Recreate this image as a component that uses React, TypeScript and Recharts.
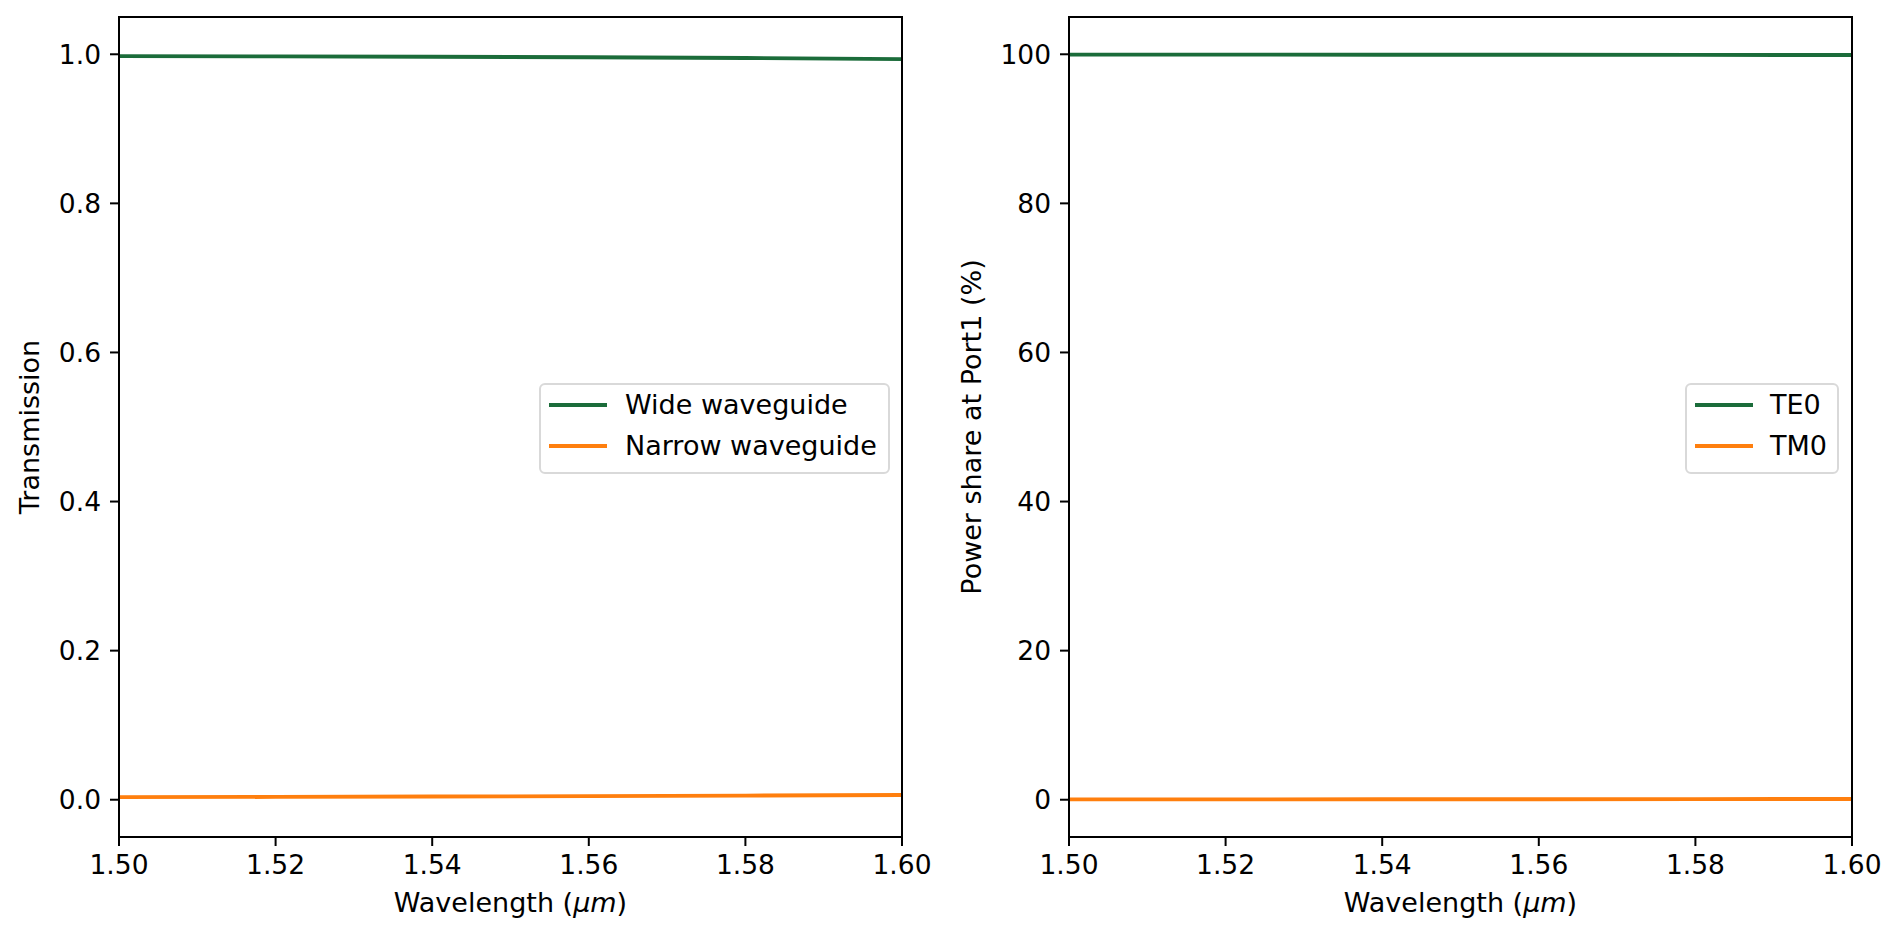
import React from 'react'
import { LineChart, Line, XAxis, YAxis } from 'recharts'

// ─── Data ─────────────────────────────────────────────────────────────────────

const WAVELENGTHS = [1.5, 1.52, 1.54, 1.56, 1.58, 1.6]
const WIDE_T      = [0.9975, 0.9972, 0.9967, 0.996, 0.995, 0.9935]
const NARROW_T    = [0.0035, 0.0038, 0.0043, 0.0048, 0.0055, 0.0063]
const TE0_SHARE   = [99.95, 99.95, 99.94, 99.93, 99.92, 99.9]
const TM0_SHARE   = [0.05, 0.05, 0.06, 0.07, 0.08, 0.1]

const X_TICKS       = [1.5, 1.52, 1.54, 1.56, 1.58, 1.6]
const Y_TICKS_LEFT  = [0, 0.2, 0.4, 0.6, 0.8, 1.0]
const Y_TICKS_RIGHT = [0, 20, 40, 60, 80, 100]

const LEFT_NAMES  = ['Wide waveguide', 'Narrow waveguide']
const RIGHT_NAMES = ['TE0', 'TM0']

// ─── Style ────────────────────────────────────────────────────────────────────

const GREEN  = '#1b6c3a'
const ORANGE = '#ff7f0e'
const FONT   = '"DejaVu Sans", Verdana, sans-serif'
const FS     = 27
const TICK   = { fill: '#000', fontSize: 26.5, fontFamily: FONT }
const AXIS   = { stroke: '#000', strokeWidth: 2 }

const leftData  = WAVELENGTHS.map((wl, i) => ({ wl, a: WIDE_T[i], b: NARROW_T[i] }))
const rightData = WAVELENGTHS.map((wl, i) => ({ wl, a: TE0_SHARE[i], b: TM0_SHARE[i] }))

function Panel({
  data,
  domain,
  ticks,
  fmt,
}: {
  data: { wl: number; a: number; b: number }[]
  domain: [number, number]
  ticks: number[]
  fmt: (v: number) => string
}) {
  return (
    <LineChart width={950} height={940} data={data} margin={{ top: 17, right: 48, bottom: 0, left: 0 }}>
      <XAxis
        dataKey="wl"
        type="number"
        domain={[1.5, 1.6]}
        ticks={X_TICKS}
        tickFormatter={(v: number) => v.toFixed(2)}
        tick={TICK}
        tickSize={9}
        tickMargin={9}
        tickLine={AXIS}
        axisLine={AXIS}
        height={103}
        allowDataOverflow
      />
      <YAxis
        type="number"
        domain={domain}
        ticks={ticks}
        tickFormatter={fmt}
        tick={TICK}
        tickSize={9}
        tickMargin={9}
        tickLine={AXIS}
        axisLine={AXIS}
        width={119}
        allowDataOverflow
      />
      <Line type="linear" dataKey="a" stroke={GREEN} strokeWidth={3.9} dot={false} activeDot={false} isAnimationActive={false} />
      <Line type="linear" dataKey="b" stroke={ORANGE} strokeWidth={3.9} dot={false} activeDot={false} isAnimationActive={false} />
    </LineChart>
  )
}

// full box around the plot area (matplotlib spines)
function Frame({ left }: { left: number }) {
  return (
    <div
      style={{
        position: 'absolute', left, top: 16, width: 785, height: 822,
        boxSizing: 'border-box', border: '2px solid #000', pointerEvents: 'none',
      }}
    />
  )
}

function LegendBox({ names, left, width, textLeft }: { names: string[]; left: number; width: number; textLeft: number }) {
  const colors = [GREEN, ORANGE]
  return (
    <div
      style={{
        position: 'absolute', left, top: 383, width, height: 91, boxSizing: 'border-box',
        border: '2px solid #d9d9d9', borderRadius: 6, background: 'rgba(255,255,255,0.8)',
      }}
    >
      {names.map((n, i) => (
        <div key={n} style={{ position: 'absolute', left: 0, top: 22 - 2 - 13 + i * 41, height: 26, width: '100%' }}>
          <svg width={60} height={26} style={{ position: 'absolute', left: 6, top: 0 }}>
            <line x1={2} x2={60} y1={13} y2={13} stroke={colors[i]} strokeWidth={3.9} />
          </svg>
          <span
            style={{
              position: 'absolute', left: textLeft, top: 0, lineHeight: '26px',
              fontSize: FS, fontFamily: FONT, color: '#000', whiteSpace: 'nowrap',
            }}
          >
            {n}
          </span>
        </div>
      ))}
    </div>
  )
}

const labelStyle: React.CSSProperties = {
  position: 'absolute', fontSize: FS, fontFamily: FONT, color: '#000',
  lineHeight: '26px', whiteSpace: 'nowrap',
}

function XTitle({ cx }: { cx: number }) {
  return (
    <div style={{ ...labelStyle, left: cx, top: 890, transform: 'translateX(-50%)' }}>
      Wavelength (<span style={{ fontStyle: 'italic' }}>μm</span>)
    </div>
  )
}

function YTitle({ cx, text }: { cx: number; text: string }) {
  return (
    <div style={{ ...labelStyle, left: cx, top: 427, transform: 'translate(-50%, -50%) rotate(-90deg)' }}>
      {text}
    </div>
  )
}

export default function App() {
  return (
    <div style={{ position: 'absolute', left: 0, top: 0, width: 1900, height: 940, background: '#fff', overflow: 'hidden' }}>
      <div style={{ position: 'absolute', left: 0, top: 0 }}>
        <Panel data={leftData} domain={[-0.05, 1.05]} ticks={Y_TICKS_LEFT} fmt={v => v.toFixed(1)} />
      </div>
      <div style={{ position: 'absolute', left: 950, top: 0 }}>
        <Panel data={rightData} domain={[-5, 105]} ticks={Y_TICKS_RIGHT} fmt={v => String(v)} />
      </div>
      <Frame left={118} />
      <Frame left={1068} />

      <LegendBox names={LEFT_NAMES} left={539} width={351} textLeft={84} />
      <LegendBox names={RIGHT_NAMES} left={1685} width={154} textLeft={83} />

      <XTitle cx={510.5} />
      <XTitle cx={1460.5} />
      <YTitle cx={30} text="Transmission" />
      <YTitle cx={972} text="Power share at Port1 (%)" />
    </div>
  )
}
